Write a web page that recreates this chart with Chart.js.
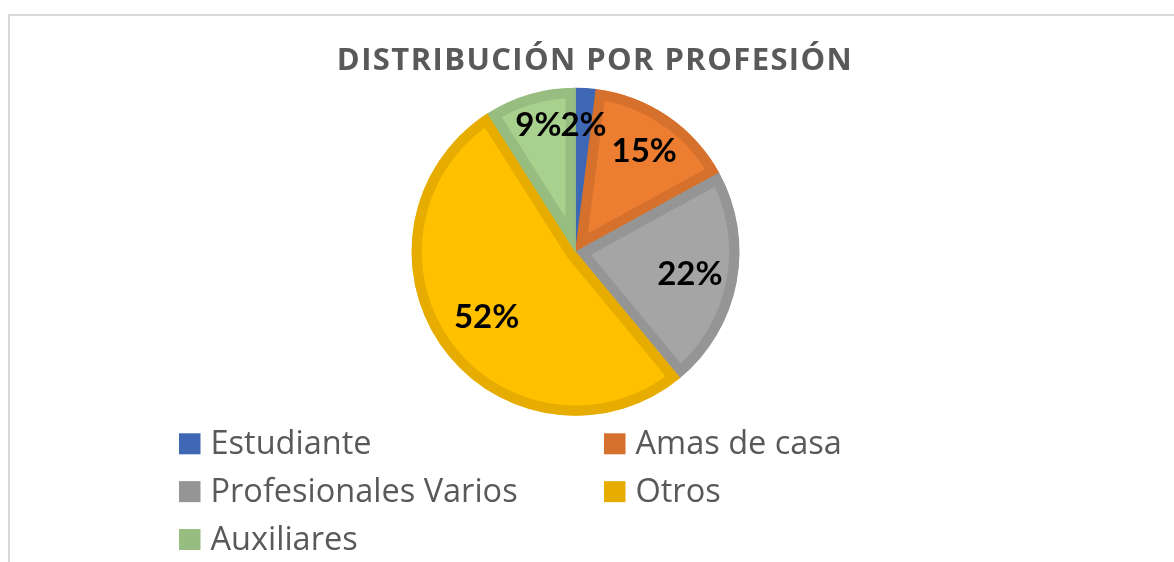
<!DOCTYPE html>
<html>
<head>
<meta charset="utf-8">
<script src="https://cdn.jsdelivr.net/npm/chart.js@4.4.1/dist/chart.umd.min.js"></script>
<style>
  html, body { margin: 0; padding: 0; background: #fff; }
  #wrap { width: 1174px; height: 562px; }
</style>
</head>
<body>
<div id="wrap"><canvas id="profChart" width="1174" height="562"></canvas></div>
<script>
const titulo = 'DISTRIBUCIÓN POR PROFESIÓN';
const categorias = ['Estudiante', 'Amas de casa', 'Profesionales Varios', 'Otros', 'Auxiliares'];
const porcentajes = [2, 15, 22, 52, 9];

const relleno = ['#4472C4', '#ED7D31', '#A5A5A5', '#FFC000', '#A9D18E'];
const borde = ['#3E68B4', '#D5712C', '#959595', '#E6AD00', '#98BD80'];
// distancia de cada etiqueta al centro (fraccion del radio)
const radioEtiqueta = [0.78, 0.745, 0.71, 0.67, 0.81];

const grisTexto = '#595959';

// titulo, marco y leyenda dibujados a mano (la leyenda va en dos columnas)
const extras = {
    id: 'extras',
    beforeDraw(chart) {
        const ctx = chart.ctx;
        ctx.save();
        ctx.strokeStyle = '#D9D9D9';
        ctx.lineWidth = 2;
        ctx.strokeRect(9, 15, 3000, 3000);
        ctx.restore();
    },
    afterDatasetsDraw(chart) {
        const ctx = chart.ctx;
        const meta = chart.getDatasetMeta(0);
        ctx.save();
        ctx.fillStyle = '#000';
        ctx.font = 'bold 33px Lato';
        ctx.textAlign = 'center';
        ctx.textBaseline = 'middle';
        meta.data.forEach((arc, i) => {
            const p = arc.getProps(['x', 'y', 'startAngle', 'endAngle', 'outerRadius'], true);
            const mid = (p.startAngle + p.endAngle) / 2;
            const r = p.outerRadius * radioEtiqueta[i];
            ctx.fillText(porcentajes[i] + '%', p.x + Math.cos(mid) * r, p.y + Math.sin(mid) * r + 1);
        });
        ctx.restore();
    },
    afterDraw(chart) {
        const ctx = chart.ctx;
        ctx.save();
        ctx.fillStyle = grisTexto;
        ctx.font = 'bold 31px "Open Sans"';
        ctx.letterSpacing = '1.4px';
        ctx.textAlign = 'center';
        ctx.textBaseline = 'alphabetic';
        ctx.fillText(titulo, 595, 70);
        ctx.letterSpacing = '0px';

        ctx.font = '32.5px "Open Sans"';
        ctx.textAlign = 'left';
        const colX = [179, 604];
        chart.data.labels.forEach((lbl, i) => {
            const x = colX[i % 2];
            const base = 454.3 + Math.floor(i / 2) * 47.85;
            ctx.fillStyle = borde[i];
            ctx.fillRect(x, base - 21, 21.5, 21);
            ctx.fillStyle = grisTexto;
            ctx.fillText(lbl, x + 31.5, base);
        });
        ctx.restore();
    }
};

new Chart(document.getElementById('profChart'), {
    type: 'pie',
    data: {
        labels: categorias,
        datasets: [{
            data: porcentajes,
            backgroundColor: relleno,
            borderColor: borde,
            borderWidth: 10,
            borderAlign: 'inner'
        }]
    },
    options: {
        responsive: false,
        animation: false,
        radius: 164,
        layout: { padding: { top: 80, bottom: 138.5, left: 0, right: 23 } },
        plugins: {
            legend: { display: false },
            title: { display: false },
            tooltip: { enabled: false }
        }
    },
    plugins: [extras]
});
</script>
</body>
</html>
